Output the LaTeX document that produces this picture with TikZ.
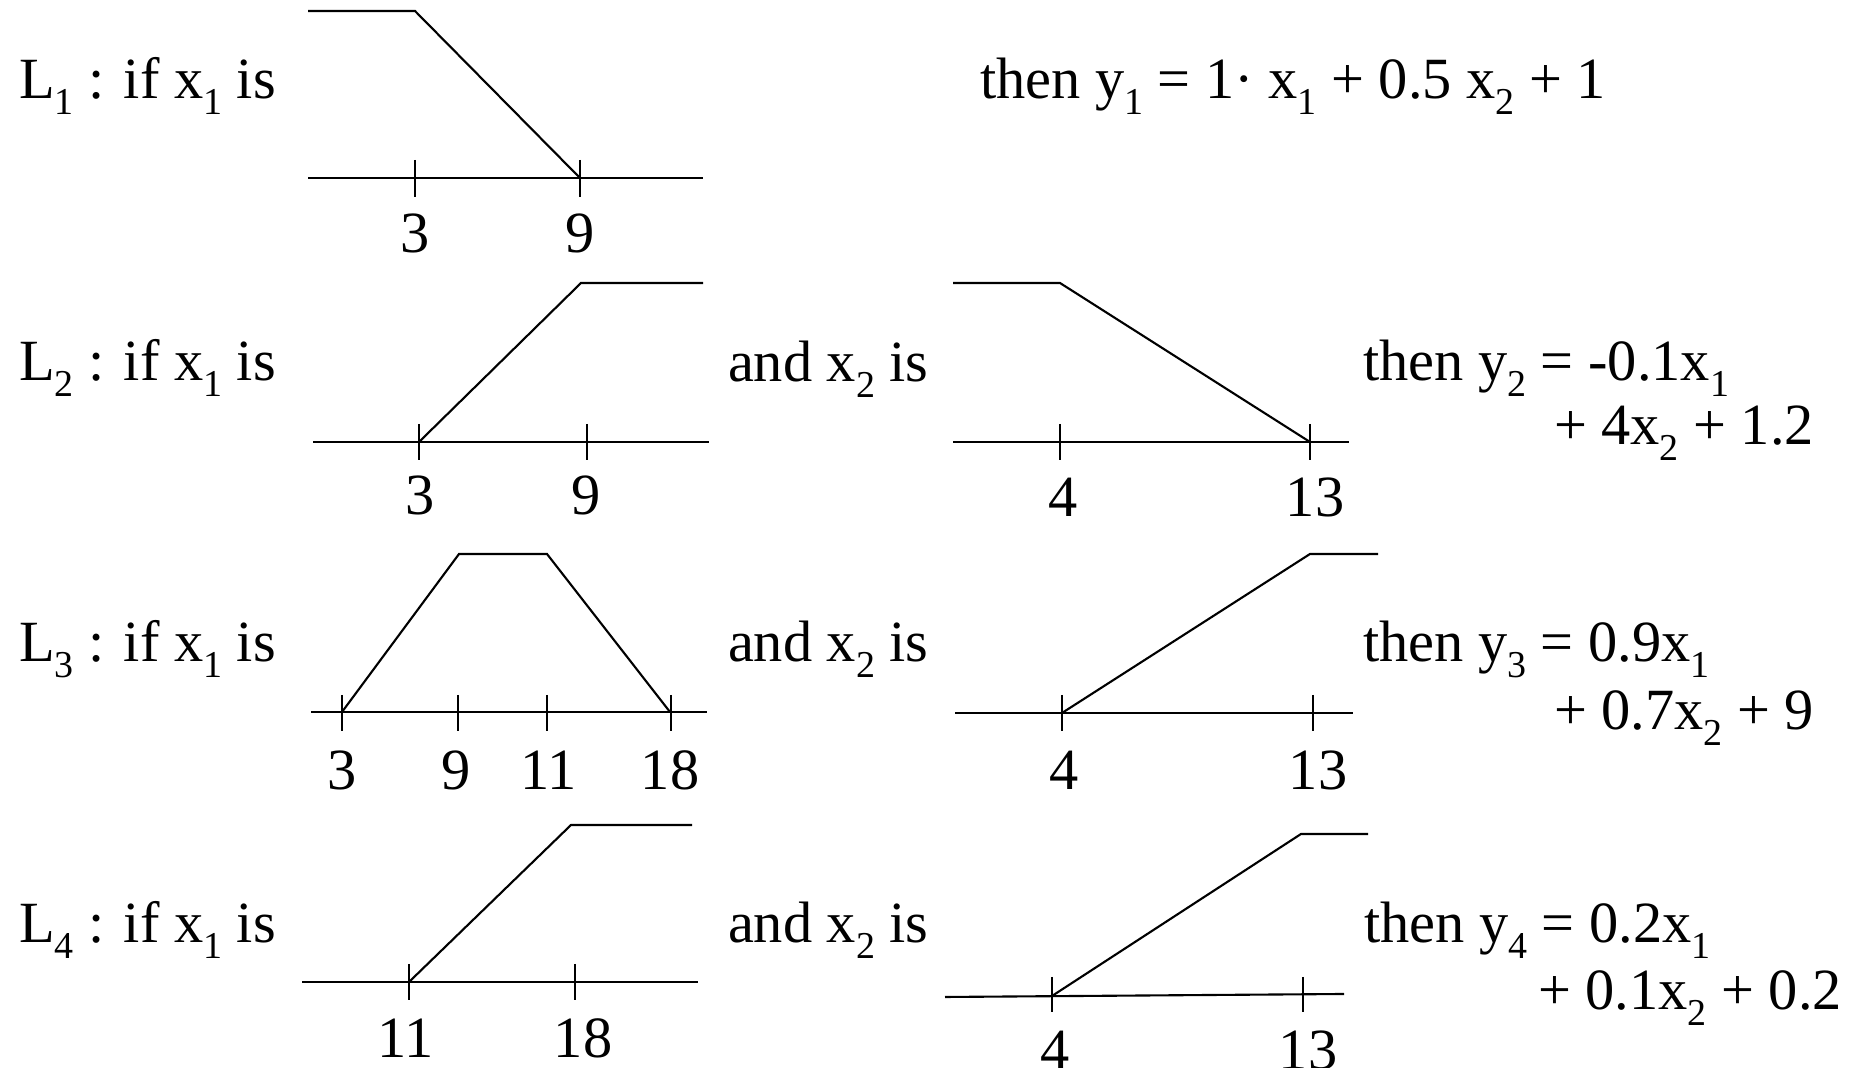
\documentclass[tikz,border=0pt]{standalone}
\usepackage{fontspec}
\setmainfont{Liberation Serif}
\newcommand{\ix}[1]{\raisebox{-4.5pt}{\fontsize{10.8pt}{12pt}\selectfont #1}}
\begin{document}
\begin{tikzpicture}[x=0.01cm, y=-0.01cm, line width=0.6pt,
  txt/.style={anchor=base west, inner sep=0pt, font=\fontsize{16.6pt}{20pt}\selectfont},
  num/.style={anchor=base, inner sep=0pt, font=\fontsize{16.6pt}{20pt}\selectfont}]
  \useasboundingbox (0,0) rectangle (1859,1068);
  % rule 1
  \node[txt] (if1) at (18,99) {L\ix{1} : if x\ix{1} is};
  \draw (308,178) -- (703,178);
  \draw (415,160) -- (415,197);
  \draw (580,160) -- (580,197);
  \draw (308,11) -- (415,11) -- (580,178);
  \node[num] (a1) at (415,253) {3};
  \node[num] (b1) at (580,253) {9};
  \node[txt] (then1) at (979,99) {then y\ix{1} = 1· x\ix{1} + 0.5 x\ix{2} + 1};
  % rule 2
  \node[txt] (if2) at (18,381) {L\ix{2} : if x\ix{1} is};
  \draw (313,442) -- (709,442);
  \draw (419,424) -- (419,460);
  \draw (587,424) -- (587,460);
  \draw (419,442) -- (581,283) -- (703,283);
  \node[num] (a2) at (420,515) {3};
  \node[num] (b2) at (586,515) {9};
  \node[txt] (and2) at (727,382) {and x\ix{2} is};
  \draw (953,442) -- (1349,442);
  \draw (1060,424) -- (1060,460);
  \draw (1310,424) -- (1310,460);
  \draw (953,283) -- (1060,283) -- (1310,442);
  \node[num] (c2) at (1063,517) {4};
  \node[num] (d2) at (1315,517) {13};
  \node[txt] (then2) at (1362,381) {then y\ix{2} = -0.1x\ix{1}};
  \node[txt] (rest2) at (1553,445) {+ 4x\ix{2} + 1.2};
  % rule 3
  \node[txt] (if3) at (18,662) {L\ix{3} : if x\ix{1} is};
  \draw (311,712) -- (707,712);
  \draw (342,695) -- (342,731);
  \draw (458,695) -- (458,731);
  \draw (547,695) -- (547,731);
  \draw (671,695) -- (671,731);
  \draw (342,712) -- (459,554) -- (547,554) -- (670,712);
  \node[num] (a3) at (342,790) {3};
  \node[num] (b3) at (456,790) {9};
  \node[num] (e3) at (549,790) {11};
  \node[num] (f3) at (670,790) {18};
  \node[txt] (and3) at (727,662) {and x\ix{2} is};
  \draw (955,713) -- (1353,713);
  \draw (1062,695) -- (1062,731);
  \draw (1313,695) -- (1313,731);
  \draw (1062,713) -- (1310,554) -- (1378,554);
  \node[num] (c3) at (1064,790) {4};
  \node[num] (d3) at (1318,790) {13};
  \node[txt] (then3) at (1362,662) {then y\ix{3} = 0.9x\ix{1}};
  \node[txt] (rest3) at (1553,730) {+ 0.7x\ix{2} + 9};
  % rule 4
  \node[txt] (if4) at (18,943) {L\ix{4} : if x\ix{1} is};
  \draw (302,982) -- (698,982);
  \draw (409,964) -- (409,1000);
  \draw (575,964) -- (575,1000);
  \draw (409,982) -- (571,825) -- (692,825);
  \node[num] (e4) at (406,1058) {11};
  \node[num] (f4) at (583,1058) {18};
  \node[txt] (and4) at (727,943) {and x\ix{2} is};
  \draw (945,997) -- (1344,994);
  \draw (1052,977) -- (1052,1012);
  \draw (1303,977) -- (1303,1012);
  \draw (1052,996) -- (1301,834) -- (1368,834);
  \node[num] (c4) at (1055,1070) {4};
  \node[num] (d4) at (1308,1070) {13};
  \node[txt] (then4) at (1363,943) {then y\ix{4} = 0.2x\ix{1}};
  \node[txt] (rest4) at (1537,1010) {+ 0.1x\ix{2} + 0.2};
\end{tikzpicture}
\end{document}
